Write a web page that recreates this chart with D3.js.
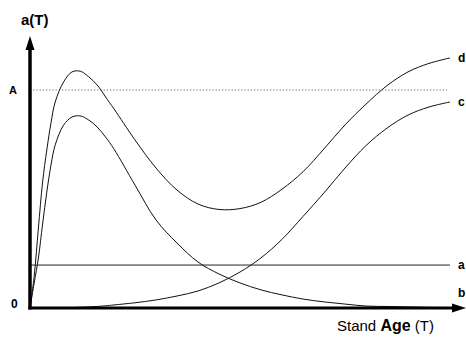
<!DOCTYPE html>
<html>
<head>
<meta charset="utf-8">
<script src="https://cdn.jsdelivr.net/npm/d3@7"></script>
<style>
  html, body { margin: 0; padding: 0; background: #fff; }
  svg { display: block; }
  text { font-family: "Liberation Sans", Arial, sans-serif; fill: #000; }
</style>
</head>
<body>
<svg id="chart" width="466" height="338"></svg>
<script>
// Stand age T (relative units, 0..100)
const ages = [0, 1, 2, 3, 4, 5, 6, 8, 10, 12, 14, 16, 18, 20, 25, 30, 35, 40, 45, 50, 55, 60, 65, 70, 75, 80, 85, 90, 95, 100];

// d: total a(T)
const seriesD = [0, 14.7, 36.7, 57.8, 72.5, 84.9, 94.5, 103.7, 108.3, 108.6, 106.0, 102.3, 96.8, 91.3, 77.1, 64.2, 54.1, 47.7, 45.2, 45.6, 48.5, 54.5, 62.5, 73.0, 84.0, 93.5, 102.0, 108.3, 112.2, 114.7];
// b: early peak, decaying toward zero
const seriesB = [0, 11.5, 22.9, 38.5, 53.2, 65.6, 74.8, 83.9, 87.6, 88.1, 86.2, 83.0, 78.4, 72.9, 56.4, 40.4, 29.8, 21.1, 15.6, 11.5, 8.3, 6.0, 4.1, 2.8, 1.8, 0.9, 0.7, 0.5, 0.3, 0.2];
// c: slow sigmoid rise
const seriesC = [0, 0, 0, 0, 0, 0.05, 0.08, 0.12, 0.2, 0.35, 0.5, 0.7, 1.0, 1.4, 2.4, 3.7, 5.5, 7.8, 11.5, 16.5, 23.0, 31.5, 42.0, 52.8, 64.2, 74.5, 82.5, 88.5, 92.2, 94.5];
// a: constant level
const levelA = 19.7;
// reference level A
const refA = 100;

const curveLabels = [
  { name: "d", value: seriesD[seriesD.length - 1] },
  { name: "c", value: seriesC[seriesC.length - 1] },
  { name: "a", value: levelA },
  { name: "b", value: 7 }
];

const svg = d3.select("#chart");

const x = d3.scaleLinear().domain([0, 100]).range([30, 450]);
const y = d3.scaleLinear().domain([0, 100]).range([308, 90]);

const line = d3.line()
  .x(d => x(d[0]))
  .y(d => y(d[1]))
  .curve(d3.curveCatmullRom.alpha(0.5));

const g = svg.append("g");

// dotted reference line at A
g.append("line")
  .attr("x1", x(0)).attr("x2", 447)
  .attr("y1", y(refA)).attr("y2", y(refA))
  .attr("stroke", "#555").attr("stroke-width", 0.9)
  .attr("stroke-dasharray", "1.2,2");

// constant a
g.append("path")
  .attr("d", line([[0, levelA], [100, levelA]]))
  .attr("fill", "none").attr("stroke", "#222").attr("stroke-width", 1);

// curves
[seriesD, seriesB, seriesC].forEach(s => {
  g.append("path")
    .attr("d", line(ages.map((t, i) => [t, Math.max(0, s[i])])))
    .attr("fill", "none")
    .attr("stroke", "#111")
    .attr("stroke-width", 1);
});

// axes with arrowheads
const x0 = x(0), y0 = y(0);
g.append("line")
  .attr("x1", x0).attr("y1", y0 + 1.5).attr("x2", x0).attr("y2", 48)
  .attr("stroke", "#000").attr("stroke-width", 3.5);
g.append("path")
  .attr("d", `M${x0},36 L${x0 - 4.5},50 L${x0 + 4.5},50 Z`)
  .attr("fill", "#000");
g.append("line")
  .attr("x1", x0 - 1.7).attr("y1", y0).attr("x2", 454).attr("y2", y0)
  .attr("stroke", "#000").attr("stroke-width", 3.2);
g.append("path")
  .attr("d", `M466,${y0} L452,${y0 - 4.5} L452,${y0 + 4.5} Z`)
  .attr("fill", "#000");

// axis texts
svg.append("text")
  .attr("x", 21).attr("y", 25)
  .attr("font-size", 15).attr("font-weight", "bold")
  .text("a(T)");
svg.append("text")
  .attr("x", 9).attr("y", 94)
  .attr("font-size", 11).attr("font-weight", "bold")
  .text("A");
svg.append("text")
  .attr("x", 11).attr("y", 308)
  .attr("font-size", 12).attr("font-weight", "bold")
  .text("0");

const xl = svg.append("text")
  .attr("x", 337).attr("y", 331)
  .attr("font-size", 15);
xl.append("tspan").text("Stand ");
xl.append("tspan").attr("font-weight", "bold").attr("font-size", 16).text("Age");
xl.append("tspan").text(" (T)");

// curve labels at the right edge
svg.selectAll(".clabel")
  .data(curveLabels)
  .join("text")
  .attr("class", "clabel")
  .attr("x", 458)
  .attr("y", d => y(d.value) + 4)
  .attr("font-size", 12)
  .attr("font-weight", "bold")
  .text(d => d.name);
</script>
</body>
</html>
